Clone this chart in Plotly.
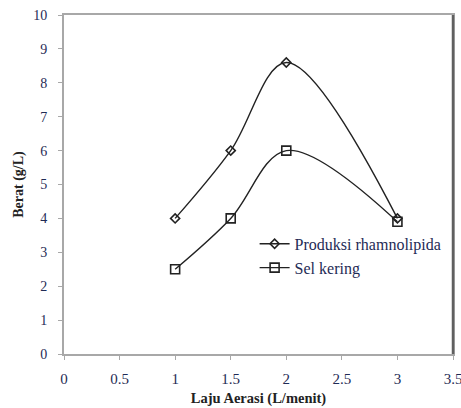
import plotly.graph_objects as go

x_vals = [1, 1.5, 2, 3]
produksi = [4.0, 6.0, 8.6, 4.0]
sel_kering = [2.5, 4.0, 6.0, 3.9]
x_ticks = [0, 0.5, 1, 1.5, 2, 2.5, 3, 3.5]
y_ticks = list(range(0, 11))

FONT = "'Liberation Serif', 'Times New Roman', Times, serif"
TICKCOL = "#1f2b55"
LINECOL = "#a8a8a8"

fig = go.Figure()
fig.add_trace(go.Scatter(
    x=x_vals, y=produksi, name="Produksi rhamnolipida",
    mode="lines+markers", line=dict(color="#222222", width=1.4, shape="spline", smoothing=1.0),
    marker=dict(symbol="diamond-open", size=7, color="#222222", line=dict(width=1.6, color="#222222")),
))
fig.add_trace(go.Scatter(
    x=x_vals, y=sel_kering, name="Sel kering",
    mode="lines+markers", line=dict(color="#222222", width=1.4, shape="spline", smoothing=1.0),
    marker=dict(symbol="square-open", size=9, color="#222222", line=dict(width=1.6, color="#222222")),
))

fig.update_layout(
    width=461, height=408,
    margin=dict(l=64, r=8, t=15, b=54, autoexpand=False),
    paper_bgcolor="white", plot_bgcolor="white",
    font=dict(family=FONT, size=14, color="#222222"),
    showlegend=True,
    legend=dict(x=0.49, y=0.375, xanchor="left", yanchor="top",
                bgcolor="rgba(0,0,0,0)", font=dict(family=FONT, size=16, color=TICKCOL),
                itemwidth=30),
    xaxis=dict(range=[0, 3.5], tickvals=x_ticks, ticktext=[str(v) for v in x_ticks],
               showgrid=False, zeroline=False, showline=True, linecolor=LINECOL, linewidth=2,
               mirror=True, ticks="outside", ticklen=4, tickcolor=LINECOL, automargin=False,
               ticklabeloverflow="allow", ticklabelstandoff=6,
               tickfont=dict(family=FONT, size=15, color=TICKCOL),
               title=dict(text="<b>Laju Aerasi (L/menit)</b>", font=dict(family=FONT, size=14.5, color="#222222"), standoff=7)),
    yaxis=dict(range=[0, 10], tickvals=y_ticks,
               showgrid=False, zeroline=False, showline=True, linecolor=LINECOL, linewidth=2,
               mirror=True, ticks="outside", ticklen=4, tickcolor=LINECOL, automargin=False,
               ticklabeloverflow="allow", ticklabelstandoff=8,
               tickfont=dict(family=FONT, size=14, color=TICKCOL),
               title=dict(text="<b>Berat (g/L)</b>", font=dict(family=FONT, size=14, color="#222222"), standoff=6)),
    shapes=[dict(type="line", xref="paper", yref="paper", x0=1, x1=1, y0=0, y1=1,
                 line=dict(color="#606060", width=2.5))],
)

fig.write_html("out.html", config={"displayModeBar": False},
               post_script="document.body.style.margin='0';document.body.style.overflow='hidden';")
